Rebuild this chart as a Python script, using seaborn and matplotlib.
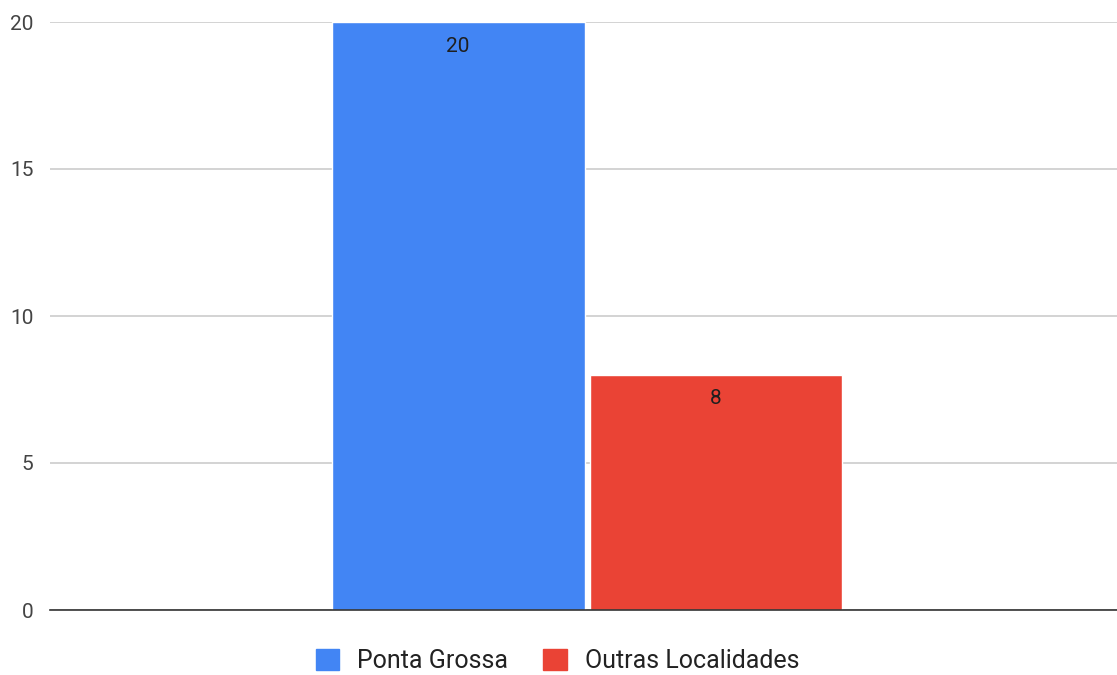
import matplotlib
matplotlib.use("Agg")
import matplotlib.pyplot as plt
import seaborn as sns
import pandas as pd

# Data
series = ["Ponta Grossa", "Outras Localidades"]
values = [20, 8]
colors = ["#4285F4", "#EA4335"]
y_ticks = [0, 5, 10, 15, 20]

df = pd.DataFrame({"grupo": [""] * len(series), "local": series, "valor": values})

sns.set_theme(style="white")
plt.rcParams["font.family"] = ["Roboto", "DejaVu Sans"]

fig = plt.figure(figsize=(11.17, 6.75), dpi=100)
ax = fig.add_axes([50 / 1117, 65 / 675, 1 - 50 / 1117, 588 / 675])

sns.barplot(data=df, x="grupo", y="valor", hue="local", hue_order=series,
            palette=colors, width=0.806, gap=0.0195, saturation=1,
            legend=False, ax=ax)

# value labels just inside the top of each bar
for container, v in zip(ax.containers, values):
    for patch in container.patches:
        cx = patch.get_x() + patch.get_width() / 2
        ax.annotate(str(v), xy=(cx, patch.get_height()), xytext=(0, -24),
                    textcoords="offset pixels", ha="center", va="center",
                    fontsize=15, color="#1f1f1f")

ax.set_ylim(0, 20)
ax.set_xlim(-0.839, 0.828)
ax.set_yticks(y_ticks)
ax.set_yticklabels([str(t) for t in y_ticks], fontsize=15, color="#444444")
ax.tick_params(axis="y", length=0, pad=12)
ax.set_xticks([])
ax.set_xlabel("")
ax.set_ylabel("")
ax.yaxis.grid(True, color="#cccccc", linewidth=1.2)
ax.set_axisbelow(True)
for s in ["left", "right", "top"]:
    ax.spines[s].set_visible(False)
ax.spines["bottom"].set_color("#333333")
ax.spines["bottom"].set_linewidth(1.2)

handles = [plt.Rectangle((0, 0), 1, 1, color=c) for c in colors]
fig.legend(handles, series, loc="center", bbox_to_anchor=(557.5 / 1117, 1 - 661 / 675),
           ncol=2, frameon=False, fontsize=18, handlelength=0.95, handleheight=0.95,
           handletextpad=0.72, columnspacing=1.4, labelcolor="#222222")

fig.savefig("out.png", dpi=100, facecolor="white")
